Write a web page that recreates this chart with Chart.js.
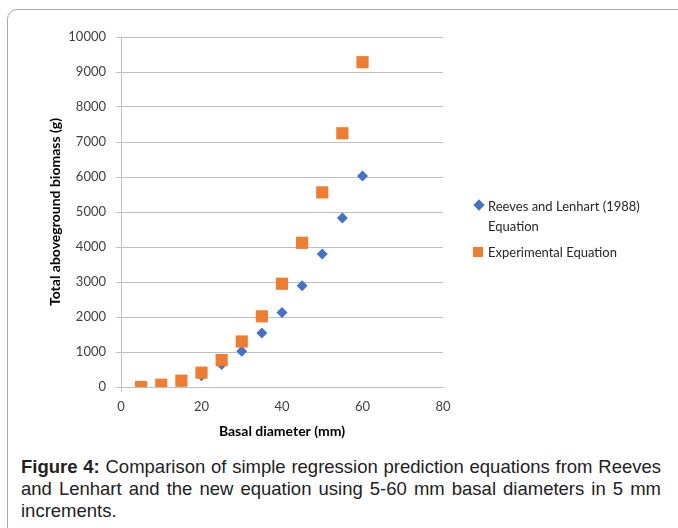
<!DOCTYPE html>
<html>
<head>
<meta charset="utf-8">
<script src="https://cdn.jsdelivr.net/npm/chart.js@4/dist/chart.umd.min.js"></script>
<style>
  html, body { margin: 0; padding: 0; background: #fff; }
  body { width: 678px; height: 528px; position: relative; overflow: hidden; }
  #frame { position: absolute; left: 7px; top: 9px; width: 720px; height: 580px;
           border: 1.5px solid #a9a9a9; border-radius: 10px; box-sizing: border-box; }
  #wrap { position: absolute; left: 0; top: 0; width: 678px; height: 450px; }
  .leg { position: absolute; font-family: Lato, "Noto Sans", sans-serif; font-size: 13px; color: #262626; line-height: 20px; }
  .mk { position: absolute; }
  #caption { position: absolute; left: 21px; width: 640px; top: 456px;
             font-family: "Liberation Sans", Arial, sans-serif;
             font-size: 18.5px; color: #222; line-height: 22px; }
  #caption .j { text-align: justify; text-align-last: justify; white-space: nowrap; }
</style>
</head>
<body>
<div id="frame"></div>
<div id="wrap"><canvas id="c" width="678" height="450"></canvas></div>

<div class="mk" style="left:475px;top:201px;width:8px;height:8px;background:#4472C4;transform:rotate(45deg);"></div>
<div class="leg" style="left:488px;top:196px;">Reeves and Lenhart (1988)<br>Equation</div>
<div class="mk" style="left:473px;top:247px;width:10px;height:10px;background:#ED7D31;"></div>
<div class="leg" style="left:488px;top:242px;">Experimental Equation</div>

<div id="caption">
  <div class="j"><b>Figure 4:</b> Comparison of simple regression prediction equations from Reeves</div>
  <div class="j">and Lenhart and the new equation using 5-60 mm basal diameters in 5 mm</div>
  <div>increments.</div>
</div>

<script>
const diameters = [5, 10, 15, 20, 25, 30, 35, 40, 45, 50, 55, 60];
const reevesLenhart = [10, 50, 140, 320, 640, 1020, 1540, 2130, 2890, 3800, 4830, 6030];
const experimental = [0, 65, 180, 410, 770, 1300, 2020, 2950, 4120, 5560, 7250, 9280];
const seriesNames = ["Reeves and Lenhart (1988) Equation", "Experimental Equation"];
const xTitle = "Basal diameter (mm)";
const yTitle = "Total aboveground biomass (g)";

const toPts = (vals) => diameters.map((d, i) => ({ x: d, y: vals[i] }));

const tickFont = { family: "Lato, 'Noto Sans', sans-serif", size: 13 };
const titleFont = { family: "Lato, 'Noto Sans', sans-serif", size: 14, weight: "bold" };

new Chart(document.getElementById("c"), {
  type: "scatter",
  data: {
    datasets: [
      { label: seriesNames[0], data: toPts(reevesLenhart), order: 1,
        pointStyle: "rectRot", pointRadius: 5.5, pointHoverRadius: 5.5,
        backgroundColor: "#4472C4", borderColor: "#4472C4", borderWidth: 0 },
      { label: seriesNames[1], data: toPts(experimental), order: 0,
        pointStyle: "rect", pointRadius: 8.6, pointHoverRadius: 8.6,
        backgroundColor: "#ED7D31", borderColor: "#ED7D31", borderWidth: 0 }
    ]
  },
  options: {
    responsive: false,
    animation: false,
    devicePixelRatio: 1,
    layout: { padding: { left: 43, top: 37, right: 235, bottom: 6 } },
    plugins: { legend: { display: false }, tooltip: { enabled: false } },
    scales: {
      x: {
        type: "linear", min: 0, max: 80,
        ticks: { stepSize: 20, font: tickFont, color: "#404040", padding: 7,
                 callback: (v) => String(v) },
        grid: { drawOnChartArea: false, tickLength: 5,
                color: (ctx) => ctx.tick && ctx.tick.value === 0 ? "#bfbfbf" : "rgba(0,0,0,0)" },
        border: { color: "#bfbfbf" },
        title: { display: true, text: xTitle, font: titleFont, color: "#000", padding: { top: 4, bottom: 4 } },
        afterFit: (s) => { s.height = 57; }
      },
      y: {
        type: "linear", min: 0, max: 10000,
        ticks: { stepSize: 1000, font: tickFont, color: "#404040", padding: 10,
                 callback: (v) => String(v) },
        grid: { color: "#bfbfbf", tickLength: 5 },
        border: { color: "#bfbfbf" },
        title: { display: true, text: yTitle, font: titleFont, color: "#000", padding: { top: 4, bottom: 4 } },
        afterFit: (s) => { s.width = 78; }
      }
    }
  }
});
</script>
</body>
</html>
